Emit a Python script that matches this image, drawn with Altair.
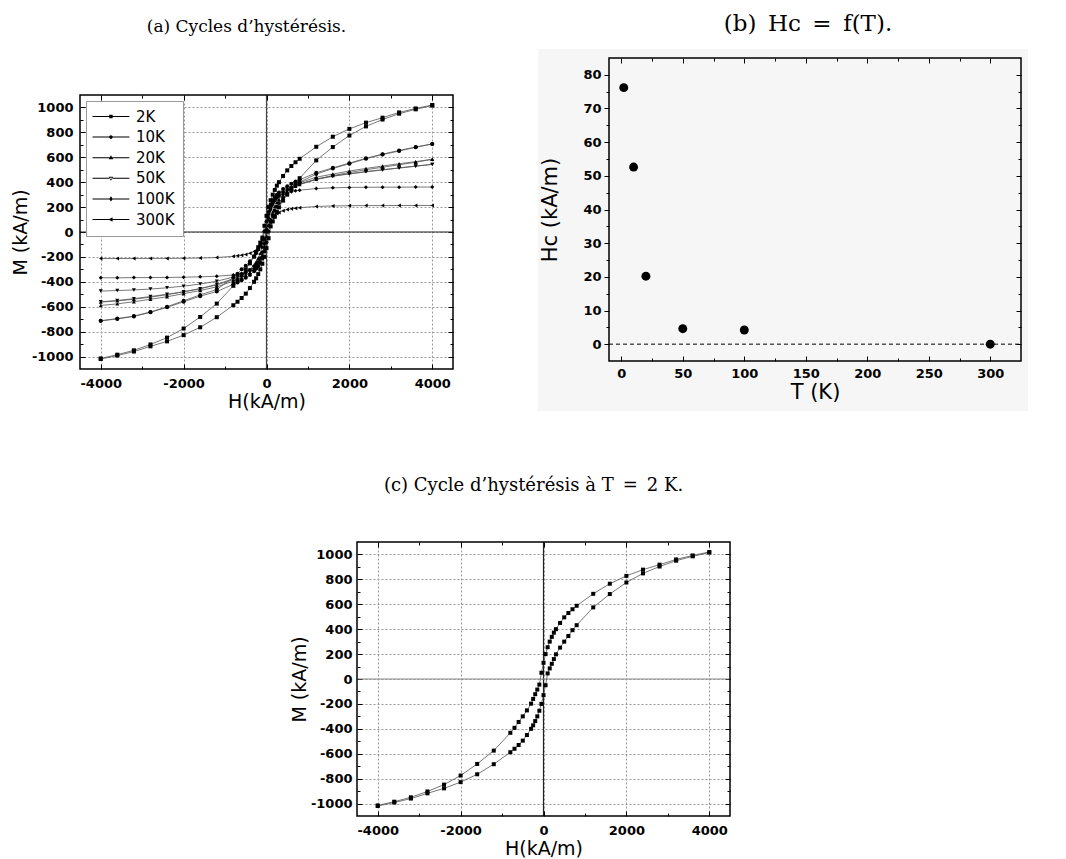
import altair as alt
import pandas as pd

# ---------------- data ----------------
TEMPS = ["2K", "10K", "20K", "50K", "100K", "300K"]
SHAPES = ["square", "circle", "triangle-up", "triangle-down", "diamond", "triangle-left"]

H_GRID = [4000, 3600, 3200, 2800, 2400, 2000, 1600, 1200, 800, 700,
          600, 500, 400, 300, 250, 200, 150, 100, 50, 0,
          -50, -100, -150, -200, -250, -300, -400, -500, -600, -700,
          -800, -1200, -1600, -2000, -2400, -2800, -3200, -3600, -4000]

M_2K_DESC = [1020, 992, 960, 918, 878, 828, 765, 684, 588, 560,
             530, 495, 450, 400, 372, 338, 300, 255, 200, 130,
             50, -45, -85, -122, -160, -198, -252, -300, -345, -392,
             -432, -575, -682, -775, -848, -903, -950, -985, -1015]
M_2K_ASC = [1015, 985, 950, 903, 848, 775, 682, 575, 432, 392,
            345, 300, 252, 198, 160, 122, 85, 45, -50, -130,
            -200, -255, -300, -338, -372, -400, -450, -495, -530, -560,
            -588, -684, -765, -828, -878, -918, -960, -992, -1020]

M_10K_DESC = [707, 682, 655, 625, 592, 553, 515, 475, 420, 405,
              388, 368, 345, 318, 300, 280, 255, 220, 160, 85,
              5, -60, -105, -140, -170, -195, -235, -270, -300, -335,
              -365, -462, -505, -552, -600, -642, -675, -695, -713]
M_10K_ASC = [707, 680, 650, 622, 588, 548, 510, 465, 400, 372,
             342, 308, 272, 232, 205, 172, 132, 80, 5, -85,
             -155, -212, -246, -276, -296, -315, -345, -368, -388, -405,
             -420, -478, -515, -560, -605, -645, -678, -698, -713]

M_20K_DESC = [584, 565, 548, 530, 510, 490, 465, 440, 395, 380,
              365, 345, 325, 300, 285, 265, 240, 205, 150, 30,
              -60, -120, -170, -210, -240, -265, -300, -328, -350, -368,
              -383, -425, -455, -480, -503, -523, -540, -553, -563]
M_20K_ASC = [584, 560, 540, 520, 500, 478, 453, 423, 382, 367,
             348, 327, 298, 262, 238, 205, 160, 100, 55, -35,
             -150, -205, -240, -265, -285, -300, -325, -345, -365, -380,
             -395, -440, -470, -495, -520, -540, -560, -577, -590]

M_50K_DESC = [543, 530, 515, 500, 485, 468, 450, 425, 385, 372,
              355, 338, 315, 290, 272, 250, 220, 180, 110, 10,
              -95, -165, -210, -240, -262, -280, -305, -325, -340, -352,
              -362, -395, -418, -435, -448, -458, -465, -470, -474]
M_50K_ASC = [543, 528, 513, 498, 483, 466, 448, 422, 382, 369,
             352, 334, 311, 285, 266, 244, 212, 170, 98, -5,
             -105, -172, -215, -244, -266, -284, -310, -332, -348, -362,
             -375, -420, -455, -480, -500, -518, -535, -550, -560]

M_100K = [361, 361, 360, 360, 359, 358, 355, 349, 336, 331,
          324, 315, 303, 287, 276, 262, 240, 205, 140, 20,
          -120, -195, -240, -265, -282, -295, -312, -325, -333, -340,
          -345, -355, -360, -363, -365, -366, -366, -368, -367]

M_300K = [213, 213, 213, 212, 212, 211, 209, 205, 195, 191,
          186, 180, 170, 157, 148, 136, 118, 92, 52, 0,
          -52, -92, -118, -136, -148, -157, -170, -180, -186, -191,
          -195, -205, -209, -211, -212, -212, -213, -213, -213]

T_VALUES = [2, 10, 20, 50, 100, 300]
HC_VALUES = [76.2, 52.6, 20.2, 4.6, 4.2, 0.0]

H_MAJOR = [-4000, -2000, 0, 2000, 4000]
H_MINOR = [-3000, -1000, 1000, 3000]
M_MAJOR = [-1000, -800, -600, -400, -200, 0, 200, 400, 600, 800, 1000]
M_MINOR = [-900, -700, -500, -300, -100, 100, 300, 500, 700, 900]
T_MAJOR = [0, 50, 100, 150, 200, 250, 300]
T_MINOR = [25, 75, 125, 175, 225, 275]
HC_MAJOR = [0, 10, 20, 30, 40, 50, 60, 70, 80]
HC_MINOR = [5, 15, 25, 35, 45, 55, 65, 75]
H_DOMAIN = [-4500, 4500]
M_DOMAIN = [-1100, 1100]
T_DOMAIN = [-10, 325]
HC_DOMAIN = [-5, 85]

# legend glyphs: a thin filled bar (the line) with the marker in its middle
LEGEND_PATHS = [
    "M-2,-0.11H6.2V0.11H-2Z M1.72,-0.38H2.48V0.38H1.72Z",
    "M-2,-0.11H6.2V0.11H-2Z M2.5,0A0.4,0.4,0,1,1,1.7,0A0.4,0.4,0,1,1,2.5,0Z",
    "M-2,-0.11H6.2V0.11H-2Z M2.1,-0.55L2.6,0.35L1.6,0.35Z",
    "M-2,-0.11H6.2V0.11H-2Z M2.1,0.55L2.6,-0.35L1.6,-0.35Z",
    "M-2,-0.11H6.2V0.11H-2Z M2.1,-0.6L2.5,0L2.1,0.6L1.7,0Z",
    "M-2,-0.11H6.2V0.11H-2Z M1.55,0L2.45,-0.5L2.45,0.5Z",
]


def branch_rows(temp, name, values):
    return [{"T": temp, "branch": temp + name, "H": h, "M": m}
            for h, m in zip(H_GRID, values)]


rows_a = []
rows_a += branch_rows("2K", "d", M_2K_DESC) + branch_rows("2K", "a", M_2K_ASC)
rows_a += branch_rows("10K", "d", M_10K_DESC) + branch_rows("10K", "a", M_10K_ASC)
rows_a += branch_rows("20K", "d", M_20K_DESC) + branch_rows("20K", "a", M_20K_ASC)
rows_a += branch_rows("50K", "d", M_50K_DESC) + branch_rows("50K", "a", M_50K_ASC)
rows_a += branch_rows("100K", "d", M_100K)
rows_a += branch_rows("300K", "d", M_300K)
df_a = pd.DataFrame(rows_a)
df_c = pd.DataFrame(branch_rows("2K", "d", M_2K_DESC) + branch_rows("2K", "a", M_2K_ASC))
df_b = pd.DataFrame({"T": T_VALUES, "Hc": HC_VALUES})
df_leg = pd.DataFrame({"T": TEMPS, "H": [0] * 6, "M": [0] * 6})
df_one = pd.DataFrame({"k": [0]})

# ---------------- helpers ----------------
SANS = "DejaVu Sans"
SERIF = "DejaVu Serif"


def axis(orient, values, tick, offset, labels=False, title=None, grid=False,
         label_pad=6, title_pad=4, title_size=19, zindex=0):
    d = dict(orient=orient, values=values, tickSize=tick, offset=offset,
             domain=False, ticks=True, tickColor="black", tickWidth=1,
             labels=labels, grid=grid, title=title, zindex=zindex)
    if labels:
        d.update(labelFont=SANS, labelFontWeight="bold", labelFontSize=13,
                 labelColor="black", labelPadding=label_pad,
                 labelExpr="'' + datum.value", labelFlush=False, labelOverlap=False)
    if title:
        d.update(titleFont=SANS, titleFontWeight="normal", titleFontSize=title_size,
                 titleColor="black", titlePadding=title_pad)
    if grid:
        d.update(gridColor="#999999", gridDash=[2, 2], gridWidth=1)
    return alt.Axis(**d)


def tick_layers(data, xf, yf, sx, sy, xmaj, xmin, ymaj, ymin, off, zindex=0, xgrid=False):
    """Invisible layers that only carry the minor / top / right tick axes.
    off: offsets for (bottom-minor, left-minor, top-major, top-minor, right-major, right-minor)."""
    specs = [
        (axis("bottom", xmin, 3, off[0], zindex=zindex), axis("left", ymin, 3, off[1], zindex=zindex)),
        (axis("top", xmaj, 5, off[2], zindex=zindex, grid=xgrid), axis("right", ymaj, 5, off[4], zindex=zindex)),
        (axis("top", xmin, 3, off[3], zindex=zindex), axis("right", ymin, 3, off[5], zindex=zindex)),
    ]
    out = []
    for ax_x, ax_y in specs:
        out.append(
            alt.Chart(data).mark_point(opacity=0).encode(
                x=alt.X(xf, scale=sx, axis=ax_x),
                y=alt.Y(yf, scale=sy, axis=ax_y),
            )
        )
    return out


def frame(sx, sy, xdom, ydom):
    return alt.Chart(df_one).mark_rect(fillOpacity=0, stroke="black", strokeWidth=1.5).encode(
        x=alt.XDatum(xdom[0], scale=sx, axis=None), x2=alt.X2Datum(xdom[1]),
        y=alt.YDatum(ydom[0], scale=sy, axis=None), y2=alt.Y2Datum(ydom[1]))


def title(text, offset, dx, size=17):
    return alt.TitleParams(text=text, font=SERIF, fontSize=size, fontWeight="normal",
                           color="black", anchor="middle", frame="group",
                           offset=offset, dx=dx)


def loop_panel(df, show_legend, ttl, w, h, xrange, yrange, offs, vzero_color, hzero_color,
               mark_size, ylabel_pad):
    """offs: dict of axis offsets."""
    sx = alt.Scale(domain=H_DOMAIN, nice=False, zero=False, range=xrange)
    sy = alt.Scale(domain=M_DOMAIN, nice=False, zero=False, range=yrange)
    main = alt.Chart(df).mark_line(color="#555", strokeWidth=0.8).encode(
        x=alt.X("H:Q", scale=sx, axis=axis("bottom", H_MAJOR, 5, offs["b"], labels=True,
                                           title="H(kA/m)", label_pad=8, title_pad=2)),
        y=alt.Y("M:Q", scale=sy, axis=axis("left", M_MAJOR, 5, offs["l"], labels=True,
                                           title="M (kA/m)", grid=True, label_pad=ylabel_pad,
                                           title_pad=1)),
        detail="branch:N",
    )
    vz = alt.Chart(df_one).mark_rule(color=vzero_color, strokeWidth=1.2).encode(
        x=alt.XDatum(0, scale=sx, axis=None),
        y=alt.YDatum(M_DOMAIN[0], scale=sy, axis=None), y2=alt.Y2Datum(M_DOMAIN[1]))
    hz = alt.Chart(df_one).mark_rule(color=hzero_color, strokeWidth=1.2).encode(
        y=alt.YDatum(0, scale=sy, axis=None),
        x=alt.XDatum(H_DOMAIN[0], scale=sx, axis=None), x2=alt.X2Datum(H_DOMAIN[1]))
    pts = alt.Chart(df).mark_point(filled=True, color="black", opacity=1, size=mark_size).encode(
        x=alt.X("H:Q", scale=sx, axis=None),
        y=alt.Y("M:Q", scale=sy, axis=None),
        shape=alt.Shape("T:N", scale=alt.Scale(domain=TEMPS, range=SHAPES), legend=None),
    )
    layers = tick_layers(df, "H:Q", "M:Q", sx, sy, H_MAJOR, H_MINOR, M_MAJOR, M_MINOR,
                         [offs["bm"], offs["lm"], offs["t"], offs["tm"], offs["r"], offs["rm"]],
                         xgrid=True)
    layers += [vz, hz, main, pts, frame(sx, sy, H_DOMAIN, M_DOMAIN)]
    if show_legend:
        leg = alt.Chart(df_leg).mark_point(opacity=0, filled=True, color="black").encode(
            x=alt.X("H:Q", scale=sx, axis=None),
            y=alt.Y("M:Q", scale=sy, axis=None),
            shape=alt.Shape("T:N", scale=alt.Scale(domain=TEMPS, range=LEGEND_PATHS),
                            legend=alt.Legend(title=None, orient="none", legendX=6,
                                              legendY=yrange[1] + 6,
                                              padding=8, strokeColor="#999", fillColor="white",
                                              symbolSize=81, symbolStrokeWidth=0,
                                              symbolFillColor="black",
                                              symbolOpacity=1, labelFont=SANS, labelFontSize=15,
                                              labelColor="black", labelOffset=27, rowPadding=4.6)),
        )
        layers.append(leg)
    ch = alt.layer(*layers).resolve_axis(x="independent", y="independent")
    if show_legend:
        ch = ch.resolve_scale(shape="independent")
    return ch.properties(width=w, height=h, title=ttl)


# panel (a): view 373 x 311, plot drawn 37 px below the top of the row
A_TOP = 37
panel_a = loop_panel(
    df_a, True, title("(a) Cycles d\u2019hystérésis.", 22, -20),
    373, 274 + A_TOP, [0, 373], [274 + A_TOP, A_TOP],
    {"b": -5, "bm": -3, "l": -5, "lm": -3, "t": -(A_TOP + 5), "tm": -(A_TOP + 3),
     "r": -5, "rm": -3},
    "#444", "#222", 16, 7)

# panel (c): sits in the first column, plot drawn 277 px to the right of that column
C_SHIFT = 277
panel_c = loop_panel(
    df_c, False, title("(c) Cycle d\u2019hystérésis à T\u2002=\u20022 K.", 46, C_SHIFT - 10, size=18),
    373, 274, [C_SHIFT, C_SHIFT + 373], [274, 0],
    {"b": -5, "bm": -3, "l": -(C_SHIFT + 5), "lm": -(C_SHIFT + 3), "t": -5, "tm": -3,
     "r": C_SHIFT - 5, "rm": C_SHIFT - 3},
    "#222", "#888", 16, 5)

# ---------------- panel b ----------------
SXB = alt.Scale(domain=T_DOMAIN, nice=False, zero=False)
SYB = alt.Scale(domain=HC_DOMAIN, nice=False, zero=False)
WB, HB = 412, 303
bg = alt.Chart(df_one).mark_rect(color="#f6f6f6").encode(
    x=alt.value(-71), x2=alt.value(WB + 7), y=alt.value(-9), y2=alt.value(HB + 50))
b_main = alt.Chart(df_b).mark_circle(color="black", opacity=1, size=80).encode(
    x=alt.X("T:Q", scale=SXB, axis=axis("bottom", T_MAJOR, 5, -5, labels=True, title="T (K)",
                                         label_pad=6, title_pad=1, title_size=21, zindex=1)),
    y=alt.Y("Hc:Q", scale=SYB, axis=axis("left", HC_MAJOR, 5, 0, labels=True,
                                          title="Hc (kA/m)", label_pad=3, title_pad=22,
                                          title_size=21, zindex=1)),
)
b_zero = alt.Chart(df_one).mark_rule(color="black", strokeWidth=1, strokeDash=[4, 3]).encode(
    y=alt.YDatum(0, scale=SYB, axis=None),
    x=alt.XDatum(T_DOMAIN[0], scale=SXB, axis=None), x2=alt.X2Datum(T_DOMAIN[1]))
b_ticks = tick_layers(df_b, "T:Q", "Hc:Q", SXB, SYB, T_MAJOR, T_MINOR, HC_MAJOR, HC_MINOR,
                      [-3, 0, -5, -3, -5, -3], zindex=1)
panel_b = alt.layer(bg, *b_ticks, b_zero, b_main, frame(SXB, SYB, T_DOMAIN, HC_DOMAIN)).resolve_axis(
    x="independent", y="independent").properties(
    width=WB, height=HB,
    title=title("(b)\u2002H\u1d04\u2002=\u2002f(T).", 13, -7, size=23))

chart = alt.concat(panel_a, panel_b, panel_c, columns=2, bounds="flush",
                   spacing={"row": 173, "column": 156}).properties(
    padding={"left": 2, "top": 4, "right": 0, "bottom": 0}
).configure_view(stroke="transparent")

chart.save("out.html", embed_options={"renderer": "svg", "actions": False})
